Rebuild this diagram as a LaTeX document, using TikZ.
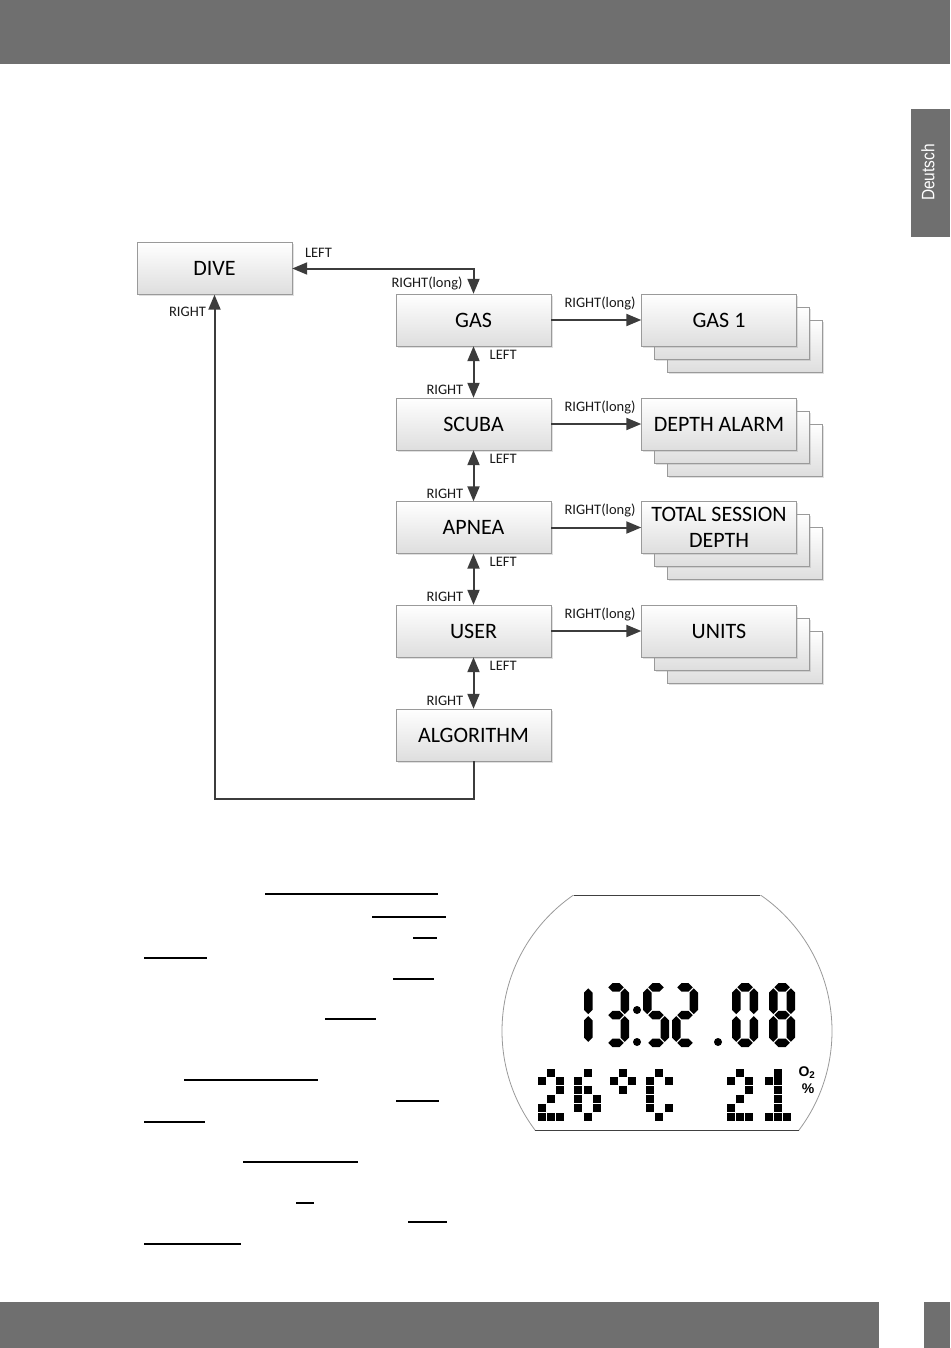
\documentclass[tikz,border=0pt]{standalone}
\usepackage{fontspec}
\setmainfont{Carlito}
\newfontfamily\tabfont[FakeStretch=0.86]{Liberation Sans}
\newfontfamily\lcdfont{Liberation Sans}
\usetikzlibrary{arrows.meta,shadows}

\definecolor{bargray}{HTML}{6F6F6F}
\definecolor{wire}{HTML}{3C3C3C}
\definecolor{frame}{HTML}{9A9A9A}

% one LCD segment: horizontal (x1,x2,y) and vertical (x,y1,y2)
\newcommand{\hseg}[3]{\fill (#1+1,#3) -- (#1+5.25,#3-4.25) -- (#2-5.25,#3-4.25) -- (#2-1,#3) -- (#2-5.25,#3+4.25) -- (#1+5.25,#3+4.25) -- cycle;}
\newcommand{\vseg}[3]{\fill (#1,#2+1) -- (#1+4.25,#2+5.25) -- (#1+4.25,#3-5.25) -- (#1,#3-1) -- (#1-4.25,#3-5.25) -- (#1-4.25,#2+5.25) -- cycle;}
% seven segment digit: left edge, list of segments 1..7
\newcommand{\lcddigit}[2]{%
  \pgfmathsetmacro\segl{#1+4.25}\pgfmathsetmacro\segr{#1+21.75}%
  \foreach \s in {#2}{%
    \ifcase\s\relax\or
      \hseg{\segl}{\segr}{987.25}\or
      \vseg{\segr}{987.25}{1015}\or
      \vseg{\segr}{1015}{1042.75}\or
      \hseg{\segl}{\segr}{1042.75}\or
      \vseg{\segl}{1015}{1042.75}\or
      \vseg{\segl}{987.25}{1015}\or
      \hseg{\segl}{\segr}{1015}\fi}}
% dot matrix character: x of first column, list of col/row
\newcommand{\dotchar}[2]{%
  \foreach \c/\r in {#2}{\fill (#1+\c*9.3-4,1072.5+\r*8.85-4) rectangle ++(8,8);}}

\begin{document}
\begin{tikzpicture}[x=1pt, y=-1pt,
  box/.style={draw=frame, top color=white, bottom color=black!13, minimum width=155pt,
    minimum height=52pt, inner sep=0pt, align=center, font=\fontsize{22}{26}\selectfont,
    drop shadow={shadow xshift=1.5pt, shadow yshift=-1.5pt, fill=black!40, opacity=.3}},
  lbl/.style={font=\fontsize{14.5}{16}\selectfont, text=black!90, inner sep=0pt},
  conn/.style={draw=wire, line width=2pt, -{Triangle[length=15pt,width=12pt]}},
  both/.style={conn, {Triangle[length=15pt,width=12pt]}-{Triangle[length=15pt,width=12pt]}},
  textline/.style={line width=1.3pt}]
  \useasboundingbox (0,0) rectangle (950,1348);

  % page bars and language tab
  \fill[bargray] (0,0) rectangle (950,64);
  \fill[bargray] (911,109) rectangle (950,237);
  \node[rotate=90, text=white, font=\tabfont\fontsize{18}{18}\selectfont, inner sep=0pt] (lang) at (928,172.5) {Deutsch};
  \fill[bargray] (0,1302) rectangle (879,1348);
  \fill[bargray] (924,1302) rectangle (950,1348);

  % menu column
  \node[box] (dive) at (214.5,268.5) {DIVE};
  \node[box] (gas) at (473.5,320) {GAS};
  \node[box] (scuba) at (473.5,424) {SCUBA};
  \node[box] (apnea) at (473.5,527.5) {APNEA};
  \node[box] (user) at (473.5,631) {USER};
  \node[box] (algo) at (473.5,735) {ALGORITHM};

  % stacked sub menus
  \foreach \y/\n in {320/gasone, 424/alarm, 527.5/session, 631/units}{
    \node[box] (\n c) at (745,\y+26) {};
    \node[box] (\n b) at (732,\y+13) {};
  }
  \node[box] (gasone) at (719,320) {GAS 1};
  \node[box] (alarm) at (719,424) {DEPTH ALARM};
  \node[box] (session) at (719,527.5) {TOTAL SESSION\\DEPTH};
  \node[box] (units) at (719,631) {UNITS};

  % DIVE <-> GAS
  \draw[both] (dive.east) -| (gas.north);
  \node[lbl] (ldive) at (318.5,253) {LEFT};
  \node[lbl] (rgas) at (427,283) {RIGHT(long)};

  % up and down the column
  \draw[both] (gas.south) -- (scuba.north);
  \node[lbl, anchor=west] (lgas) at (489.5,355) {LEFT};
  \node[lbl, anchor=east] (rscuba) at (463.5,390) {RIGHT};
  \draw[both] (scuba.south) -- (apnea.north);
  \node[lbl, anchor=west] (lscuba) at (489.5,459) {LEFT};
  \node[lbl, anchor=east] (rapnea) at (463.5,493.5) {RIGHT};
  \draw[both] (apnea.south) -- (user.north);
  \node[lbl, anchor=west] (lapnea) at (489.5,562) {LEFT};
  \node[lbl, anchor=east] (ruser) at (463.5,597) {RIGHT};
  \draw[both] (user.south) -- (algo.north);
  \node[lbl, anchor=west] (luser) at (489.5,666) {LEFT};
  \node[lbl, anchor=east] (ralgo) at (463.5,701) {RIGHT};

  % ALGORITHM back to DIVE
  \draw[conn] (algo.south) -- ++(0,38) -| (dive.south);
  \node[lbl] (rdive) at (187.5,312) {RIGHT};

  % into the sub menus
  \draw[conn] (gas.east) -- (gasone.west);
  \node[lbl] (rgasone) at (600,303) {RIGHT(long)};
  \draw[conn] (scuba.east) -- (alarm.west);
  \node[lbl] (ralarm) at (600,407) {RIGHT(long)};
  \draw[conn] (apnea.east) -- (session.west);
  \node[lbl] (rsession) at (600,510.5) {RIGHT(long)};
  \draw[conn] (user.east) -- (units.west);
  \node[lbl] (runits) at (600,614) {RIGHT(long)};

  % underlined words of the text column
  \foreach \xa/\xb/\y in {265/438/894, 372/446/917, 413/437/938, 144/207/958, 393/434/979,
    325/376/1019, 184/318/1080, 396/439/1101, 144/205/1122, 243/358/1162, 296/314/1203,
    408/447/1222, 144/241/1244}
    \draw[textline] (\xa,\y) -- (\xb,\y);

  % display
  \begin{scope}
    \clip (480,895) rectangle (860,1130);
    \draw[black!40, line width=0.8pt] (667,1031) circle[radius=165pt];
  \end{scope}
  \draw[black!75, line width=1pt] (573.6,895) -- (760.4,895);
  \draw[black!75, line width=1pt] (535,1130) -- (799,1130);

  % 13:52.08
  \lcddigit{566.5}{2,3}
  \lcddigit{603}{1,2,3,4,7}
  \fill (637,1010) circle[radius=4pt];
  \fill (637,1042) circle[radius=4pt];
  \lcddigit{643}{1,6,7,3,4}
  \lcddigit{672}{1,2,7,5,4}
  \fill (718,1042) circle[radius=4pt];
  \lcddigit{732}{1,2,3,4,5,6}
  \lcddigit{769}{1,2,3,4,5,6,7}

  % 26 C 21
  \dotchar{541.7}{1/0,0/1,2/1,2/2,1/3,0/4,0/5,1/5,2/5}
  \dotchar{578.4}{1/0,0/1,0/2,1/2,0/3,2/3,0/4,2/4,1/5}
  \dotchar{613.5}{1/0,0/1,2/1,1/2}
  \dotchar{650}{1/0,0/1,2/1,0/2,0/3,0/4,2/4,1/5}
  \dotchar{730.5}{1/0,0/1,2/1,2/2,1/3,0/4,0/5,1/5,2/5}
  \dotchar{768.5}{1/0,0/1,1/1,1/2,1/3,1/4,0/5,1/5,2/5}
  \node[font=\lcdfont\bfseries\fontsize{14}{14}\selectfont, inner sep=0pt] (otwo) at (807,1073) {O\textsubscript{2}};
  \node[font=\lcdfont\bfseries\fontsize{14}{14}\selectfont, inner sep=0pt] (pct) at (808,1089) {\%};
\end{tikzpicture}
\end{document}
